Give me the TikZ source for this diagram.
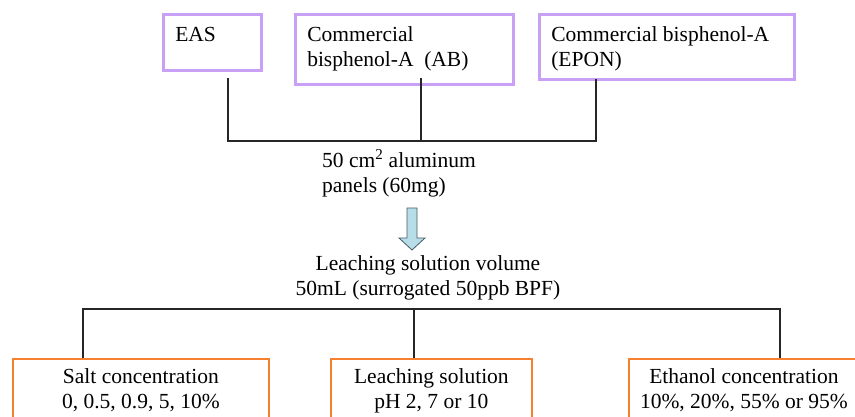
\documentclass[tikz,border=0pt]{standalone}
\usepackage{fontspec}
\setmainfont{Liberation Serif}
\definecolor{lavender}{RGB}{200,160,245}
\definecolor{orangeline}{RGB}{247,128,48}
\definecolor{arrowfill}{RGB}{183,222,232}
\definecolor{arrowline}{RGB}{70,90,100}
\tikzstyle{source} = [rectangle, draw=lavender, line width=2.5pt, inner xsep=12pt, inner ysep=9.5pt, anchor=north west]
\tikzstyle{factor} = [rectangle, draw=orangeline, line width=1.8pt, inner xsep=0pt, inner ysep=7.5pt, anchor=north west]
\tikzstyle{info} = [inner sep=0pt]
\tikzstyle{link} = [line width=1.3pt, draw=black!85]
\newcommand{\boxtext}[3]{\parbox[t][#1][t]{#2}{\strut #3}}
\begin{document}
\begin{tikzpicture}[x=1pt, y=-1pt, every node/.style={font=\fontsize{21.5}{25}\selectfont}]
\useasboundingbox (0,0) rectangle (855,416);
\clip (0,0) rectangle (855,416);
% sources
\node (eas) [source] at (162,13) {\boxtext{37pt}{74pt}{EAS}};
\node (ab) [source] at (294,13) {\boxtext{51pt}{194pt}{Commercial\\bisphenol-A\ \ (AB)}};
\node (epon) [source] at (538,13) {\boxtext{46pt}{231pt}{Commercial bisphenol-A\\(EPON)}};
\coordinate (easDrop) at (228,78);
\coordinate (abDrop) at (421,78);
\coordinate (eponDrop) at (596,79);
\coordinate (easFoot) at (228,141);
\coordinate (eponFoot) at (596,141);
\draw [link] (easDrop) -- (easFoot) -- (eponFoot) -- (eponDrop);
\draw [link] (abDrop) -- (abDrop |- easFoot);
% panels and solution
\node (panels) [info, anchor=north west] at (322,149.5) {\parbox[t]{200pt}{\strut 50 cm\textsuperscript{2} aluminum\\panels (60mg)}};
\coordinate (arrowTop) at (412,208);
\draw [fill=arrowfill, draw=arrowline, line width=0.8pt] (arrowTop) ++(-5,0) -- ++(10,0) -- ++(0,30) -- ++(8,0) -- ++(-13,12) -- ++(-13,-12) -- ++(8,0) -- cycle;
\node (volume) [info, anchor=north] at (428,252.5) {\parbox[t]{300pt}{\centering\strut Leaching solution volume\\50mL (surrogated 50ppb BPF)}};
% factors
\node (salt) [factor] at (12,358) {\boxtext{65pt}{256pt}{\centering Salt concentration\\0, 0.5, 0.9, 5, 10\%}};
\node (ph) [factor] at (330,358) {\boxtext{65pt}{201pt}{\centering Leaching solution\\pH 2, 7 or 10}};
\node (ethanol) [factor] at (628,358) {\boxtext{65pt}{230pt}{\centering Ethanol concentration\\10\%, 20\%, 55\% or 95\%}};
\coordinate (saltJoin) at (83,309);
\coordinate (phJoin) at (414,309);
\coordinate (ethanolJoin) at (780,309);
\draw [link] (saltJoin |- salt.north) -- (saltJoin) -- (ethanolJoin) -- (ethanolJoin |- ethanol.north);
\draw [link] (phJoin) -- (phJoin |- ph.north);
\end{tikzpicture}
\end{document}
